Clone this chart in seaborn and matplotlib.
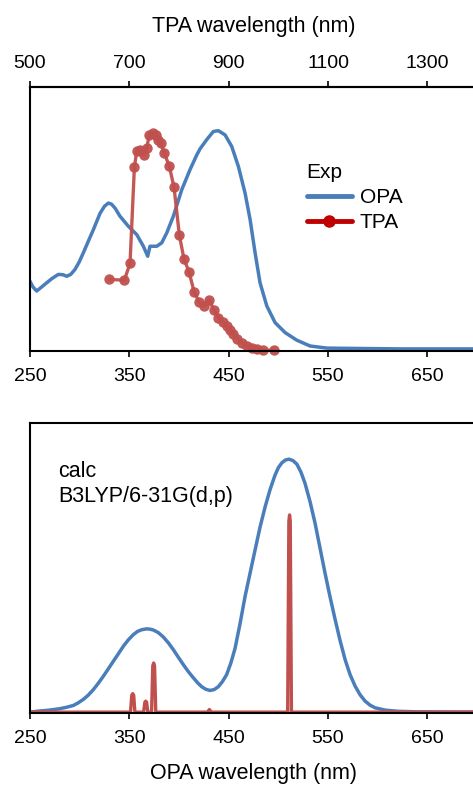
import numpy as np
import seaborn as sns
import matplotlib.pyplot as plt
from matplotlib.lines import Line2D

# ---- data (normalised heights) ----
# experimental one-photon absorption
opa_exp_nm = [250, 253, 256.7, 261, 266.8, 272, 278.5, 283, 287, 291, 295.3, 299.5, 303.7,
              308.7, 313.8, 320.5, 325, 328.9, 332, 335.6, 340.6, 349, 357.5, 364.1, 368.5,
              370.8, 377.6, 382.6, 387.7, 394.3, 402.8, 411.1, 417.9, 421.2, 427.9, 434.6,
              439.6, 446.4, 453.1, 459.8, 466.5, 471.6, 476.6, 481.6, 488.4, 496.7, 506.8,
              518.6, 532, 548.8, 572, 622.6, 700]
opa_exp_val = [0.262, 0.24, 0.225, 0.238, 0.256, 0.272, 0.288, 0.287, 0.281, 0.288, 0.307,
               0.335, 0.37, 0.414, 0.458, 0.52, 0.547, 0.559, 0.555, 0.54, 0.509, 0.471,
               0.439, 0.395, 0.357, 0.395, 0.395, 0.408, 0.446, 0.509, 0.61, 0.686, 0.742,
               0.765, 0.8, 0.831, 0.834, 0.818, 0.774, 0.698, 0.597, 0.496, 0.37, 0.256,
               0.168, 0.105, 0.067, 0.038, 0.016, 0.008, 0.007, 0.005, 0.005]

# experimental two-photon absorption (plotted at half the laser wavelength)
tpa_exp_nm = [329.9, 345, 350.7, 355.1, 357.4, 360.8, 364.8, 367.5, 370.1, 373.5, 376.8,
              379.2, 381.5, 385, 390.3, 395, 400.4, 405.1, 410.1, 415.2, 420.2, 425.2,
              430.3, 435.3, 439.7, 444, 448, 451.4, 454.8, 458.8, 463.2, 468.2, 473.2,
              478.3, 485, 495.7]
tpa_exp_val = [0.269, 0.266, 0.33, 0.696, 0.755, 0.761, 0.742, 0.768, 0.818, 0.827, 0.818,
               0.799, 0.789, 0.751, 0.698, 0.619, 0.436, 0.345, 0.298, 0.222, 0.184, 0.168,
               0.191, 0.153, 0.124, 0.109, 0.092, 0.077, 0.061, 0.044, 0.029, 0.017, 0.009,
               0.004, 0.0, 0.0]

# calculated one-photon spectrum
opa_calc_nm = [250, 260, 270, 280.2, 287, 293.6, 298.5, 303.7, 308.7, 313.8, 318.8, 323.8,
               328.9, 333.9, 339, 344, 349, 354, 358.2, 362.4, 367.4, 370.8, 374.2, 379.2,
               384.2, 389.2, 394.3, 399.3, 404.4, 409.4, 414.4, 418.6, 422.8, 427, 431.2,
               435.4, 439.6, 443.8, 448, 452.2, 456.4, 461.4, 466.5, 471.5, 476.6, 481.6,
               486.7, 491.7, 496.7, 500.1, 503.5, 507.1, 510.8, 514.7, 518.6, 522.8, 526.9,
               532, 537, 542, 547, 552.1, 557.2, 562.2, 567.2, 572.2, 577.3, 582.3, 587.4,
               592.4, 597.4, 607.5, 620, 640, 700]
opa_calc_val = [0.0, 0.004, 0.007, 0.012, 0.017, 0.023, 0.032, 0.044, 0.059, 0.078, 0.1,
                0.124, 0.15, 0.176, 0.202, 0.228, 0.25, 0.268, 0.279, 0.285, 0.288, 0.287,
                0.284, 0.275, 0.26, 0.24, 0.216, 0.19, 0.164, 0.14, 0.119, 0.102, 0.088,
                0.079, 0.075, 0.078, 0.088, 0.106, 0.13, 0.17, 0.22, 0.305, 0.4, 0.48,
                0.561, 0.64, 0.71, 0.77, 0.82, 0.846, 0.862, 0.872, 0.875, 0.87, 0.858,
                0.83, 0.791, 0.727, 0.653, 0.567, 0.481, 0.398, 0.32, 0.247, 0.182, 0.13,
                0.09, 0.06, 0.038, 0.024, 0.015, 0.007, 0.003, 0.001, 0.0]

# calculated two-photon spectrum (narrow lines)
tpa_calc_nm = [250, 351.2, 352.4, 353.4, 354.4, 355.6, 364.4, 365.6, 366.5, 367.4, 368.6,
               372.4, 373.6, 374.5, 375.4, 376.6, 428.6, 430.6, 432.6,
               509.4, 510.6, 511.3, 512.0, 513.2, 700]
tpa_calc_val = [0, 0, 0.058, 0.064, 0.058, 0, 0, 0.034, 0.038, 0.034, 0,
                0, 0.16, 0.17, 0.16, 0, 0, 0.009, 0,
                0, 0.66, 0.682, 0.66, 0, 0]

opa_ticks = [250, 350, 450, 550, 650]
tpa_ticks = [500, 700, 900, 1100, 1300]

BLUE = "#4A7EBB"
RED = "#C0504D"
RED_LEG = "#C00000"

sns.set_theme(style="ticks")
plt.rcParams["font.family"] = ["Liberation Sans", "DejaVu Sans"]
plt.rcParams["axes.linewidth"] = 1.5
plt.rcParams["xtick.major.width"] = 1.2
plt.rcParams["xtick.major.size"] = 4
plt.rcParams["xtick.labelsize"] = 14
plt.rcParams["xtick.color"] = "black"
plt.rcParams["axes.edgecolor"] = "black"
plt.rcParams["axes.labelcolor"] = "black"
plt.rcParams["text.color"] = "black"

fig = plt.figure(figsize=(4.73, 7.87), dpi=100)
ax1 = fig.add_axes([30 / 473, 436 / 787, 447 / 473, 264 / 787])
ax2 = fig.add_axes([30 / 473, 74 / 787, 447 / 473, 290 / 787])

# ---- top panel: experiment ----
sns.lineplot(x=opa_exp_nm, y=opa_exp_val, ax=ax1, color=BLUE, lw=2.5, sort=False)
sns.lineplot(x=tpa_exp_nm, y=tpa_exp_val, ax=ax1, color=RED, lw=2.4, sort=False,
             marker="o", markersize=7.5, markeredgewidth=0, alpha=0.95)
for ln in ax1.lines[1:]:
    ln.set_clip_on(False)
ax1.set_xlim(250, 700)
ax1.set_ylim(-0.003, 1.0)
ax1.set_yticks([])
ax1.set_xticks(opa_ticks)
ax1.spines["right"].set_visible(False)
ax1.tick_params(axis="x", direction="out", pad=8)

sec = ax1.secondary_xaxis("top", functions=(lambda x: 2 * x, lambda x: x / 2))
sec.set_xticks(tpa_ticks)
sec.tick_params(direction="out", labelsize=14, pad=7, width=1.2, length=4,
                colors="black")
sec.set_xlabel("TPA wavelength (nm)", fontsize=15.5, labelpad=16)

handles = [Line2D([], [], color=BLUE, lw=3.5),
           Line2D([], [], color=RED_LEG, lw=3.5, marker="o", markersize=8)]
leg = ax1.legend(handles, ["OPA", "TPA"], title="Exp", frameon=False,
                 loc="upper left", bbox_to_anchor=(0.6, 0.743), fontsize=15,
                 title_fontsize=15, handlelength=2.2, handletextpad=0.35,
                 labelspacing=0.28, alignment="left", borderaxespad=0)

# ---- bottom panel: calculation ----
sns.lineplot(x=opa_calc_nm, y=opa_calc_val, ax=ax2, color=BLUE, lw=2.5, sort=False)
sns.lineplot(x=tpa_calc_nm, y=tpa_calc_val, ax=ax2, color=RED, lw=2.4, sort=False)
ax2.set_xlim(250, 700)
ax2.set_ylim(-0.003, 1.0)
ax2.set_yticks([])
ax2.set_xticks(opa_ticks)
ax2.spines["right"].set_visible(False)
ax2.tick_params(axis="x", direction="out", pad=8)
ax2.set_xlabel("OPA wavelength (nm)", fontsize=15.5, labelpad=12)
ax2.text(0.063, 0.868, "calc\nB3LYP/6-31G(d,p)", transform=ax2.transAxes,
         fontsize=15.5, va="top", ha="left", linespacing=1.22)

fig.savefig("out.png", dpi=100)
